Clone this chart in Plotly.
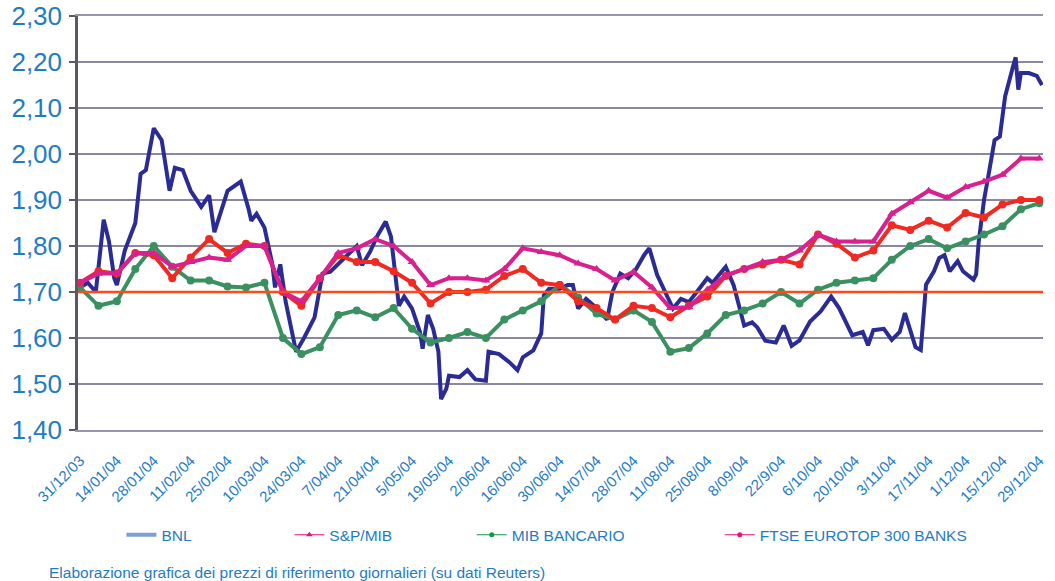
import plotly.graph_objects as go
import pandas as pd

# weekly sample dates (Wednesdays) for the three index series
week_dates = pd.date_range("2003-12-31", periods=53, freq="7D")

sp_mib = [1.72, 1.74, 1.74, 1.785, 1.785, 1.755, 1.765, 1.775, 1.77, 1.80,
          1.80, 1.70, 1.68, 1.73, 1.785, 1.795, 1.815, 1.80, 1.765, 1.715,
          1.73, 1.73, 1.725, 1.75, 1.795, 1.787, 1.78, 1.762, 1.75, 1.725,
          1.744, 1.71, 1.665, 1.667, 1.705, 1.736, 1.75, 1.765, 1.77, 1.79,
          1.825, 1.81, 1.81, 1.81, 1.87, 1.895, 1.92, 1.905, 1.928, 1.94,
          1.955, 1.99, 1.99]

ftse_banks = [1.72, 1.745, 1.74, 1.785, 1.78, 1.73, 1.775, 1.815, 1.785, 1.805,
              1.80, 1.70, 1.67, 1.73, 1.78, 1.765, 1.765, 1.745, 1.72, 1.675,
              1.70, 1.70, 1.705, 1.735, 1.75, 1.72, 1.715, 1.68, 1.665, 1.64,
              1.67, 1.665, 1.645, 1.67, 1.69, 1.735, 1.75, 1.76, 1.77, 1.76,
              1.825, 1.805, 1.775, 1.79, 1.845, 1.835, 1.855, 1.84, 1.872, 1.862,
              1.89, 1.90, 1.90]

mib_bancario = [1.71, 1.67, 1.68, 1.75, 1.80, 1.755, 1.725, 1.725, 1.712, 1.71,
                1.72, 1.60, 1.565, 1.58, 1.65, 1.66, 1.645, 1.665, 1.62, 1.59,
                1.60, 1.613, 1.60, 1.64, 1.66, 1.68, 1.715, 1.688, 1.653, 1.64,
                1.66, 1.635, 1.57, 1.578, 1.61, 1.65, 1.66, 1.675, 1.70, 1.675,
                1.705, 1.72, 1.725, 1.73, 1.77, 1.80, 1.815, 1.795, 1.81, 1.825,
                1.843, 1.88, 1.893]

bnl_dates = ["2003-12-31", "2004-01-03", "2004-01-06", "2004-01-09", "2004-01-11",
             "2004-01-13", "2004-01-14", "2004-01-17", "2004-01-21", "2004-01-23",
             "2004-01-25", "2004-01-28", "2004-01-31", "2004-02-03", "2004-02-05",
             "2004-02-08", "2004-02-11", "2004-02-15", "2004-02-18", "2004-02-20",
             "2004-02-25", "2004-03-01", "2004-03-04", "2004-03-05", "2004-03-07",
             "2004-03-10", "2004-03-13", "2004-03-14", "2004-03-16", "2004-03-18",
             "2004-03-22", "2004-03-25", "2004-03-29", "2004-04-01", "2004-04-04",
             "2004-04-06", "2004-04-10", "2004-04-14", "2004-04-16", "2004-04-19",
             "2004-04-22", "2004-04-25", "2004-04-27", "2004-04-29", "2004-04-30",
             "2004-05-02", "2004-05-05", "2004-05-08", "2004-05-09", "2004-05-11",
             "2004-05-13", "2004-05-15", "2004-05-16", "2004-05-18", "2004-05-19",
             "2004-05-23", "2004-05-26", "2004-05-29", "2004-06-02", "2004-06-03",
             "2004-06-07", "2004-06-11", "2004-06-14", "2004-06-16", "2004-06-20",
             "2004-06-23", "2004-06-24", "2004-06-26", "2004-06-30", "2004-07-03",
             "2004-07-05", "2004-07-07", "2004-07-10", "2004-07-13", "2004-07-18",
             "2004-07-20", "2004-07-23", "2004-07-26", "2004-07-29", "2004-08-01",
             "2004-08-03", "2004-08-06", "2004-08-09", "2004-08-12", "2004-08-15",
             "2004-08-18", "2004-08-21", "2004-08-25", "2004-08-27", "2004-09-01",
             "2004-09-04", "2004-09-08", "2004-09-11", "2004-09-13", "2004-09-16",
             "2004-09-20", "2004-09-23", "2004-09-26", "2004-09-29", "2004-10-03",
             "2004-10-07", "2004-10-11", "2004-10-14", "2004-10-19", "2004-10-23",
             "2004-10-25", "2004-10-27", "2004-10-31", "2004-11-03", "2004-11-06",
             "2004-11-08", "2004-11-10", "2004-11-12", "2004-11-14", "2004-11-16",
             "2004-11-19", "2004-11-21", "2004-11-23", "2004-11-25", "2004-11-28",
             "2004-11-30", "2004-12-04", "2004-12-05", "2004-12-06", "2004-12-08",
             "2004-12-10", "2004-12-12", "2004-12-14", "2004-12-16", "2004-12-19",
             "2004-12-20", "2004-12-21", "2004-12-22", "2004-12-25", "2004-12-28",
             "2004-12-30"]

bnl = [1.71, 1.72, 1.70, 1.857, 1.81,
       1.73, 1.715, 1.79, 1.85, 1.957,
       1.965, 2.056, 2.03, 1.92, 1.97,
       1.965, 1.92, 1.885, 1.91, 1.83,
       1.92, 1.94, 1.88, 1.855, 1.87,
       1.84, 1.76, 1.71, 1.76, 1.68,
       1.57, 1.60, 1.645, 1.74, 1.744,
       1.755, 1.78, 1.80, 1.758, 1.787,
       1.824, 1.853, 1.82, 1.707, 1.67,
       1.69, 1.664, 1.613, 1.577, 1.65,
       1.62, 1.57, 1.467, 1.49, 1.518,
       1.515, 1.53, 1.51, 1.507, 1.57,
       1.565, 1.547, 1.53, 1.558, 1.573,
       1.61, 1.693, 1.707, 1.707, 1.715,
       1.715, 1.664, 1.685, 1.67, 1.64,
       1.70, 1.74, 1.73, 1.75, 1.78,
       1.795, 1.737, 1.70, 1.664, 1.685,
       1.678, 1.70, 1.73, 1.72, 1.755,
       1.715, 1.627, 1.634, 1.623, 1.594,
       1.59, 1.627, 1.583, 1.595, 1.636,
       1.658, 1.69, 1.665, 1.606, 1.613,
       1.584, 1.617, 1.62, 1.596, 1.613,
       1.654, 1.613, 1.58, 1.574, 1.716,
       1.745, 1.774, 1.78, 1.745, 1.767,
       1.745, 1.727, 1.738, 1.81, 1.90,
       1.964, 2.03, 2.038, 2.125, 2.19,
       2.21, 2.14, 2.176, 2.176, 2.17,
       2.15]

base_level = 1.70

tick_dates = pd.date_range("2003-12-31", periods=27, freq="14D")
tick_labels = ["31/12/03", "14/01/04", "28/01/04", "11/02/04", "25/02/04", "10/03/04",
               "24/03/04", "7/04/04", "21/04/04", "5/05/04", "19/05/04", "2/06/04",
               "16/06/04", "30/06/04", "14/07/04", "28/07/04", "11/08/04", "25/08/04",
               "8/09/04", "22/9/04", "6/10/04", "20/10/04", "3/11/04", "17/11/04",
               "1/12/04", "15/12/04", "29/12/04"]

BLUE_TEXT = "#1f7cc4"
FONT = "Liberation Sans"

fig = go.Figure()

# chart traces (legend drawn separately with the report's legend styling)
fig.add_trace(go.Scatter(x=bnl_dates, y=bnl, mode="lines", showlegend=False,
                         line=dict(color="#2b2b94", width=4)))
fig.add_trace(go.Scatter(x=week_dates, y=mib_bancario, mode="lines+markers", showlegend=False,
                         line=dict(color="#3a9060", width=4),
                         marker=dict(color="#3a9060", size=8, symbol="circle")))
fig.add_trace(go.Scatter(x=week_dates, y=ftse_banks, mode="lines+markers", showlegend=False,
                         line=dict(color="#ee2a22", width=4),
                         marker=dict(color="#ee2a22", size=8, symbol="circle")))
fig.add_trace(go.Scatter(x=week_dates, y=sp_mib, mode="lines+markers", showlegend=False,
                         line=dict(color="#d8208e", width=4),
                         marker=dict(color="#d8208e", size=8, symbol="triangle-up")))

fig.add_hline(y=base_level, line=dict(color="#ff4a1c", width=2.5))

# legend entries
fig.add_trace(go.Scatter(x=[None], y=[None], mode="lines", name="BNL", legend="legend",
                         line=dict(color="#7f9fd3", width=4)))
fig.add_trace(go.Scatter(x=[None], y=[None], mode="lines+markers", name="S&P/MIB", legend="legend2",
                         line=dict(color="#e0157f", width=1.2),
                         marker=dict(color="#e0157f", size=6, symbol="triangle-up")))
fig.add_trace(go.Scatter(x=[None], y=[None], mode="lines+markers", name="MIB BANCARIO", legend="legend3",
                         line=dict(color="#119944", width=1.2),
                         marker=dict(color="#119944", size=5, symbol="circle")))
fig.add_trace(go.Scatter(x=[None], y=[None], mode="lines+markers", name="FTSE EUROTOP 300 BANKS",
                         legend="legend4",
                         line=dict(color="#e0157f", width=1.2),
                         marker=dict(color="#e0157f", size=5, symbol="circle")))

legend_style = dict(orientation="h", y=-0.254, yanchor="middle", xanchor="left",
                    itemwidth=30, font=dict(family=FONT, size=15.5, color=BLUE_TEXT),
                    bgcolor="rgba(0,0,0,0)")

fig.update_layout(
    width=1055, height=581,
    margin=dict(l=78, r=12, t=16, b=151),
    paper_bgcolor="white", plot_bgcolor="white",
    separators=",.",
    font=dict(family=FONT, color=BLUE_TEXT),
    legend=dict(x=0.045, **legend_style),
    legend2=dict(x=0.219, **legend_style),
    legend3=dict(x=0.408, **legend_style),
    legend4=dict(x=0.665, **legend_style),
)

fig.update_xaxes(
    type="date",
    range=["2003-12-30 06:00", "2004-12-30 09:00"],
    tickvals=tick_dates, ticktext=tick_labels, tickangle=-45,
    tickfont=dict(family=FONT, size=15, color=BLUE_TEXT),
    showgrid=False, zeroline=False,
    showline=True, linecolor="#9896a8", linewidth=2, mirror=True,
    ticks="", ticklabelstandoff=14, automargin=False,
    ticklabeloverflow="allow",
)

fig.update_yaxes(
    range=[1.40, 2.30], dtick=0.10, tickformat=".2f",
    tickfont=dict(family=FONT, size=26, color=BLUE_TEXT),
    showgrid=True, gridcolor="#8a88a4", gridwidth=1.5,
    zeroline=False,
    showline=True, linecolor="#5a5866", linewidth=2.5,
    ticks="outside", ticklen=6, tickcolor="#5a5866", tickwidth=2,
    ticklabelstandoff=2, automargin=False,
    ticklabeloverflow="allow",
)

fig.add_annotation(
    text="Elaborazione grafica dei prezzi di riferimento giornalieri (su dati Reuters)",
    xref="paper", yref="paper", x=-0.032, y=-0.345,
    xanchor="left", yanchor="middle", showarrow=False,
    font=dict(family=FONT, size=15.5, color=BLUE_TEXT),
)

# drop the browser's default body margin so the figure fills the window exactly
fig.write_html("out.html", config={"displayModeBar": False},
               post_script="document.body.style.margin = '0px';")
